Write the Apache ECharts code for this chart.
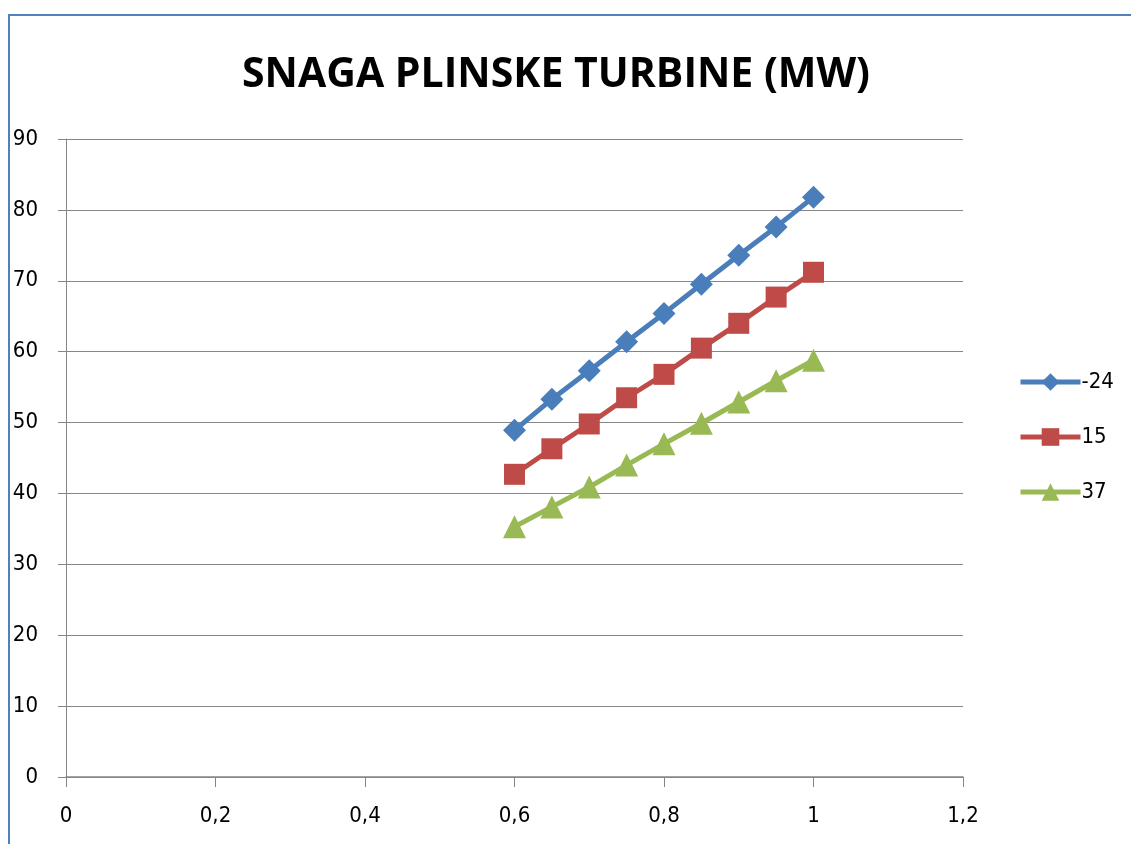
<!DOCTYPE html>
<html>
<head>
<meta charset="utf-8">
<script src="https://cdn.jsdelivr.net/npm/echarts@6/dist/echarts.min.js"></script>
<style>
html,body{margin:0;padding:0;background:#fff;}
#frame{position:absolute;left:8px;top:14px;width:1200px;height:900px;border-top:2px solid #4f81bd;border-left:2px solid #4f81bd;}
#chart{position:absolute;left:0;top:0;width:1131px;height:844px;}
</style>
</head>
<body>
<div id="frame"></div>
<div id="chart"></div>
<script>
const xValues = [0.6, 0.65, 0.7, 0.75, 0.8, 0.85, 0.9, 0.95, 1.0];
const seriesNames = ['-24', '15', '37'];
const s1 = [48.9, 53.3, 57.3, 61.4, 65.4, 69.5, 73.6, 77.6, 81.8];
const s2 = [42.7, 46.3, 49.8, 53.5, 56.8, 60.5, 64.0, 67.7, 71.2];
const s3 = [35.3, 38.1, 40.9, 44.0, 47.0, 49.9, 52.9, 55.9, 58.8];
const colors = ['#4a7ebb', '#be4b48', '#98b954'];
const symbols = ['diamond', 'rect', 'triangle'];
const symbolSizes = [23, 21, 23];

const labelFont = '"Liberation Sans Narrow", "DejaVu Sans Condensed", sans-serif';
const chart = echarts.init(document.getElementById('chart'));
const all = [s1, s2, s3];
chart.setOption({
  backgroundColor: 'transparent',
  animation: false,
  title: {
    text: 'SNAGA PLINSKE TURBINE (MW)',
    left: 551, top: 50, textAlign: 'center',
    textStyle: {fontFamily: '"Open Sans", sans-serif', fontWeight: 'bold', fontSize: 41, color: '#000'}
  },
  legend: {
    orient: 'vertical', left: 1013, top: 366, itemGap: 33,
    itemWidth: 60, itemHeight: 22,
    lineStyle: {width: 5},
    textStyle: {fontFamily: labelFont, fontSize: 22, color: '#000', padding: [0,0,0,-4]},
    data: seriesNames
  },
  grid: {left: 66, right: 168, top: 139, bottom: 67},
  xAxis: {
    type: 'value', min: 0, max: 1.2, interval: 0.2,
    axisLine: {lineStyle: {color: '#868686', width: 1.5}},
    axisTick: {show: true, length: 10, lineStyle: {color: '#868686'}},
    splitLine: {show: false},
    axisLabel: {
      fontFamily: labelFont, fontSize: 22, color: '#000', margin: 28,
      formatter: v => String(Math.round(v * 10) / 10).replace('.', ',')
    }
  },
  yAxis: {
    type: 'value', min: 0, max: 90, interval: 10,
    axisLine: {show: true, lineStyle: {color: '#868686', width: 1}},
    axisTick: {show: true, length: 8, lineStyle: {color: '#868686'}},
    splitLine: {lineStyle: {color: '#868686', width: 1.2}},
    axisLabel: {fontFamily: labelFont, fontSize: 22, color: '#000', margin: 28}
  },
  series: all.map((arr, i) => ({
    name: seriesNames[i], type: 'line',
    data: xValues.map((x, j) => [x, arr[j]]),
    symbol: symbols[i], symbolSize: symbolSizes[i],
    lineStyle: {color: colors[i], width: 5},
    itemStyle: {color: colors[i]},
    z: 3 - i
  }))
});
</script>
</body>
</html>
